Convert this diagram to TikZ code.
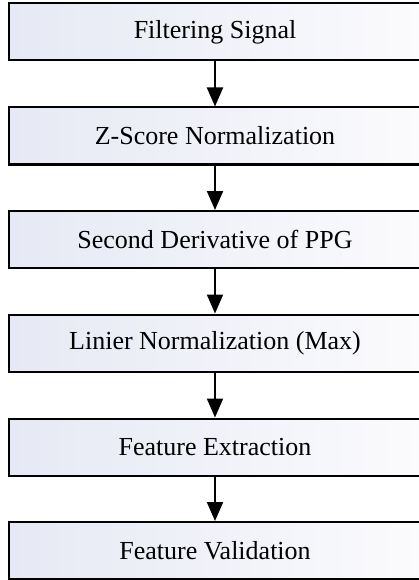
\documentclass[tikz,border=0pt]{standalone}
\usepackage{fontspec}
\setmainfont{Liberation Serif}
\usetikzlibrary{arrows.meta}
\definecolor{boxleft}{HTML}{E6E9F4}
\definecolor{boxright}{HTML}{FBFBFD}
\begin{document}
\begin{tikzpicture}[x=1pt,y=-1pt,
  stepbox/.style={draw=black, line width=2pt, left color=boxleft, right color=boxright,
    minimum width=413pt, minimum height=57pt, inner sep=0pt,
    font=\fontsize{26}{30}\selectfont},
  flow/.style={line width=2pt, -{Triangle[width=16pt,length=19pt]}}]
\useasboundingbox (0,0) rectangle (418,580);
\node[stepbox] (s1) at (215,32) {Filtering Signal};
\node[stepbox] (s2) at (215,136) {Z-Score Normalization};
\node[stepbox] (s3) at (215,239.5) {Second Derivative of PPG};
\node[stepbox] (s4) at (215,343) {Linier Normalization (Max)};
\node[stepbox] (s5) at (215,447) {Feature Extraction};
\node[stepbox] (s6) at (215,550.5) {Feature Validation};
\draw[flow] (s1) -- (s2);
\draw[flow] (s2) -- (s3);
\draw[flow] (s3) -- (s4);
\draw[flow] (s4) -- (s5);
\draw[flow] (s5) -- (s6);
\end{tikzpicture}
\end{document}
